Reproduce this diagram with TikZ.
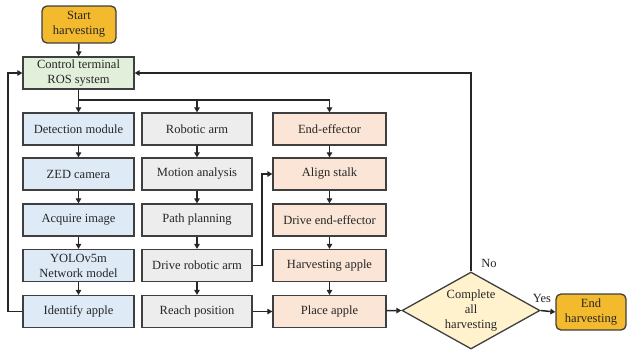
\documentclass[tikz,border=0pt]{standalone}
\usepackage{fontspec}
\setmainfont{Liberation Serif}
\usetikzlibrary{shapes.geometric,arrows.meta}
\definecolor{cblue}{HTML}{DEEBF7}
\definecolor{cgray}{HTML}{EDEDED}
\definecolor{cpeach}{HTML}{FBE5D6}
\definecolor{cgreen}{HTML}{E2EFDA}
\definecolor{cyel}{HTML}{FFF2CC}
\definecolor{corange}{HTML}{F4BA2E}
\definecolor{cline}{HTML}{262626}
\definecolor{cborder}{HTML}{3F3F3F}
\begin{document}
\begin{tikzpicture}[x=1pt,y=-1pt,
  font=\fontsize{12.5}{15}\selectfont,
  box/.style={draw=cborder,line width=1.3pt,inner sep=0pt,minimum height=32pt,align=center,text=black!85},
  bluebox/.style={box,fill=cblue,minimum width=111pt},
  graybox/.style={box,fill=cgray,minimum width=110pt},
  peachbox/.style={box,fill=cpeach,minimum width=113pt},
  termbox/.style={box,fill=corange,rounded corners=5pt},
  conn/.style={draw=cline,line width=1.5pt,-{Triangle[length=5pt,width=5.5pt]}},
  plain/.style={draw=cline,line width=1.5pt}]
\useasboundingbox (0,0) rectangle (627,349);
% nodes
\node[termbox,minimum width=74pt,minimum height=37pt] (start) at (79,24.5) {Start\\harvesting};
\node[box,fill=cgreen,minimum width=111pt] (ctrl) at (78.5,73) {Control terminal\\ROS system};
\node[bluebox] (det) at (78.5,129) {Detection module};
\node[bluebox] (zed) at (78.5,174) {ZED camera};
\node[bluebox] (acq) at (78.5,220) {Acquire image};
\node[bluebox] (yolo) at (78.5,265.5) {YOLOv5m\\Network model};
\node[bluebox] (ident) at (78.5,311.5) {Identify apple};
\node[graybox] (arm) at (197,129) {Robotic arm};
\node[graybox] (mot) at (197,174) {Motion analysis};
\node[graybox] (path) at (197,220) {Path planning};
\node[graybox] (drive) at (197,265.5) {Drive robotic arm};
\node[graybox] (reach) at (197,311.5) {Reach position};
\node[peachbox] (ee) at (329.5,129) {End-effector};
\node[peachbox] (align) at (329.5,174) {Align stalk};
\node[peachbox] (dee) at (329.5,220) {Drive end-effector};
\node[peachbox] (harv) at (329.5,265.5) {Harvesting apple};
\node[peachbox] (place) at (329.5,311.5) {Place apple};
\node[draw=cborder,line width=1.3pt,fill=cyel,diamond,aspect=1.77,inner sep=0pt,
  minimum width=138pt,minimum height=77pt,align=center,text=black!85] (dec) at (471,310.5) {Complete\\all\\harvesting};
\node[termbox,minimum width=70pt,minimum height=36pt] (end) at (591,312) {End\\harvesting};
% coordinates
\coordinate (br) at (78.5,100);
\coordinate (b2) at (197,100);
\coordinate (b3) at (329.5,100);
\coordinate (lx1) at (8,311.5);
\coordinate (lx2) at (8,73);
\coordinate (dx1) at (262,265.5);
\coordinate (dx2) at (262,174);
\coordinate (nx) at (471,73);
% connectors
\draw[conn] (start) -- (ctrl);
\draw[conn] (ctrl) -- (det);
\draw[plain] (br) -- (b3);
\draw[conn] (b2) -- (arm);
\draw[conn] (b3) -- (ee);
\draw[conn] (det) -- (zed);
\draw[conn] (zed) -- (acq);
\draw[conn] (acq) -- (yolo);
\draw[conn] (yolo) -- (ident);
\draw[conn] (arm) -- (mot);
\draw[conn] (mot) -- (path);
\draw[conn] (path) -- (drive);
\draw[conn] (drive) -- (reach);
\draw[conn] (ee) -- (align);
\draw[conn] (align) -- (dee);
\draw[conn] (dee) -- (harv);
\draw[conn] (harv) -- (place);
\draw[conn] (ident.west) -- (lx1) -- (lx2) -- (ctrl.west);
\draw[conn] (drive.east) -- (dx1) -- (dx2) -- (align.west);
\draw[conn] (reach) -- (place);
\draw[conn] (place) -- (dec.west);
\draw[conn] (dec.north) -- (nx) -- (ctrl.east);
\draw[conn] (dec.east) -- (end.west);
\node[text=black!85] (no) at (489,263) {No};
\node[text=black!85] (yes) at (542,298) {Yes};
\end{tikzpicture}
\end{document}
